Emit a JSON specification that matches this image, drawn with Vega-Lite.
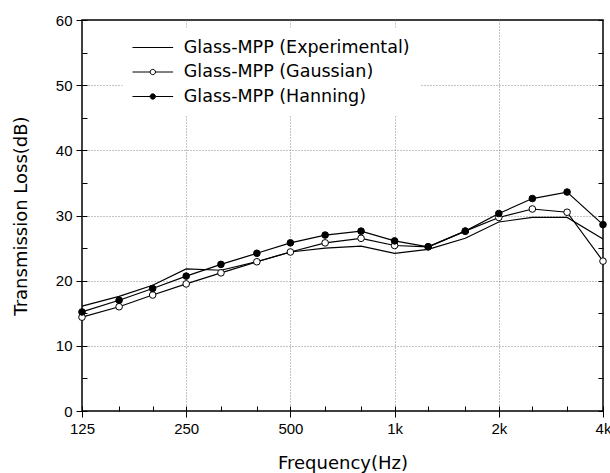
{
  "$schema": "https://vega.github.io/schema/vega-lite/v6.json",
  "width": 521,
  "height": 391,
  "autosize": "none",
  "padding": {"left": 82, "top": 20, "right": 7, "bottom": 62},
  "background": "white",
  "config": {
    "view": {"stroke": "black", "strokeWidth": 1.5},
    "font": "Liberation Sans",
    "axis": {"tickColor": "black", "domain": false, "labelColor": "black", "titleColor": "black"},
    "legend": {"orient": "none", "legendX": 40.5, "legendY": 7.5, "title": null, "fillColor": "white", "padding": 10, "labelFont": "DejaVu Sans", "labelFontSize": 17.5, "labelColor": "black", "symbolSize": 361, "symbolOffset": 10.3, "labelOffset": 21, "rowPadding": 5.5, "symbolStrokeColor": "black", "symbolStrokeWidth": 1, "labelLimit": 400}
  },
  "data": {
    "values": [
      {"series": "Glass-MPP (Experimental)", "freq": 125, "tl": 16.1},
      {"series": "Glass-MPP (Experimental)", "freq": 160, "tl": 17.6},
      {"series": "Glass-MPP (Experimental)", "freq": 200, "tl": 19.3},
      {"series": "Glass-MPP (Experimental)", "freq": 250, "tl": 21.8},
      {"series": "Glass-MPP (Experimental)", "freq": 315, "tl": 21.6},
      {"series": "Glass-MPP (Experimental)", "freq": 400, "tl": 22.9},
      {"series": "Glass-MPP (Experimental)", "freq": 500, "tl": 24.4},
      {"series": "Glass-MPP (Experimental)", "freq": 630, "tl": 25.0},
      {"series": "Glass-MPP (Experimental)", "freq": 800, "tl": 25.3},
      {"series": "Glass-MPP (Experimental)", "freq": 1000, "tl": 24.2},
      {"series": "Glass-MPP (Experimental)", "freq": 1250, "tl": 24.8},
      {"series": "Glass-MPP (Experimental)", "freq": 1600, "tl": 26.5},
      {"series": "Glass-MPP (Experimental)", "freq": 2000, "tl": 29.0},
      {"series": "Glass-MPP (Experimental)", "freq": 2500, "tl": 29.7},
      {"series": "Glass-MPP (Experimental)", "freq": 3150, "tl": 29.7},
      {"series": "Glass-MPP (Experimental)", "freq": 4000, "tl": 26.4},
      {"series": "Glass-MPP (Gaussian)", "freq": 125, "tl": 14.4},
      {"series": "Glass-MPP (Gaussian)", "freq": 160, "tl": 16.0},
      {"series": "Glass-MPP (Gaussian)", "freq": 200, "tl": 17.8},
      {"series": "Glass-MPP (Gaussian)", "freq": 250, "tl": 19.5},
      {"series": "Glass-MPP (Gaussian)", "freq": 315, "tl": 21.2},
      {"series": "Glass-MPP (Gaussian)", "freq": 400, "tl": 22.9},
      {"series": "Glass-MPP (Gaussian)", "freq": 500, "tl": 24.4},
      {"series": "Glass-MPP (Gaussian)", "freq": 630, "tl": 25.8},
      {"series": "Glass-MPP (Gaussian)", "freq": 800, "tl": 26.5},
      {"series": "Glass-MPP (Gaussian)", "freq": 1000, "tl": 25.4},
      {"series": "Glass-MPP (Gaussian)", "freq": 1250, "tl": 25.2},
      {"series": "Glass-MPP (Gaussian)", "freq": 1600, "tl": 27.6},
      {"series": "Glass-MPP (Gaussian)", "freq": 2000, "tl": 29.7},
      {"series": "Glass-MPP (Gaussian)", "freq": 2500, "tl": 31.0},
      {"series": "Glass-MPP (Gaussian)", "freq": 3150, "tl": 30.5},
      {"series": "Glass-MPP (Gaussian)", "freq": 4000, "tl": 23.0},
      {"series": "Glass-MPP (Hanning)", "freq": 125, "tl": 15.2},
      {"series": "Glass-MPP (Hanning)", "freq": 160, "tl": 17.0},
      {"series": "Glass-MPP (Hanning)", "freq": 200, "tl": 18.8},
      {"series": "Glass-MPP (Hanning)", "freq": 250, "tl": 20.7},
      {"series": "Glass-MPP (Hanning)", "freq": 315, "tl": 22.5},
      {"series": "Glass-MPP (Hanning)", "freq": 400, "tl": 24.2},
      {"series": "Glass-MPP (Hanning)", "freq": 500, "tl": 25.8},
      {"series": "Glass-MPP (Hanning)", "freq": 630, "tl": 27.0},
      {"series": "Glass-MPP (Hanning)", "freq": 800, "tl": 27.6},
      {"series": "Glass-MPP (Hanning)", "freq": 1000, "tl": 26.1},
      {"series": "Glass-MPP (Hanning)", "freq": 1250, "tl": 25.2},
      {"series": "Glass-MPP (Hanning)", "freq": 1600, "tl": 27.6},
      {"series": "Glass-MPP (Hanning)", "freq": 2000, "tl": 30.3},
      {"series": "Glass-MPP (Hanning)", "freq": 2500, "tl": 32.6},
      {"series": "Glass-MPP (Hanning)", "freq": 3150, "tl": 33.6},
      {"series": "Glass-MPP (Hanning)", "freq": 4000, "tl": 28.6}
    ]
  },
  "resolve": {"axis": {"x": "independent", "y": "independent"}},
  "layer": [
    {
      "mark": {"type": "line", "color": "black", "strokeWidth": 1.2},
      "encoding": {
        "x": {
          "field": "freq", "type": "quantitative",
          "scale": {"type": "log", "domain": [125, 4000], "nice": false},
          "axis": {"orient": "bottom", "values": [250, 500, 1000, 2000], "grid": true, "gridColor": "#888888", "gridDash": [1, 2], "gridWidth": 1, "ticks": false, "labels": false, "domain": false, "title": null}
        },
        "y": {
          "field": "tl", "type": "quantitative",
          "scale": {"domain": [0, 60], "nice": false},
          "axis": {"orient": "left", "values": [10, 20, 30, 40, 50], "grid": true, "gridColor": "#888888", "gridDash": [1, 2], "gridWidth": 1, "ticks": false, "labels": false, "domain": false, "title": null}
        },
        "detail": {"field": "series", "type": "nominal"}
      }
    },
    {
      "transform": [{"filter": "datum.series !== 'Glass-MPP (Experimental)'"}],
      "mark": {"type": "point", "filled": true, "stroke": "black", "strokeWidth": 1, "size": 44, "opacity": 1},
      "encoding": {
        "x": {
          "field": "freq", "type": "quantitative",
          "axis": {"orient": "bottom", "values": [125, 250, 500, 1000, 2000, 4000], "labelExpr": "datum.value >= 1000 ? (datum.value / 1000) + 'k' : datum.value", "tickSize": 6, "tickWidth": 1, "labelPadding": 4, "labelFontSize": 15, "labelFont": "Liberation Sans", "labelFlush": false, "labelOverlap": false, "grid": false, "domain": false, "title": "Frequency(Hz)", "titleFont": "DejaVu Sans", "titleFontSize": 18, "titleFontWeight": "normal", "titlePadding": 18}
        },
        "y": {
          "field": "tl", "type": "quantitative",
          "axis": {"orient": "left", "values": [0, 10, 20, 30, 40, 50, 60], "tickSize": 6, "tickWidth": 1, "labelPadding": 4, "labelFontSize": 15, "labelFont": "Liberation Sans", "labelFlush": false, "labelOverlap": false, "grid": false, "domain": false, "title": "Transmission Loss(dB)", "titleFont": "DejaVu Sans", "titleFontSize": 18, "titleFontWeight": "normal", "titlePadding": 25}
        },
        "fill": {
          "field": "series", "type": "nominal",
          "scale": {"domain": ["Glass-MPP (Experimental)", "Glass-MPP (Gaussian)", "Glass-MPP (Hanning)"], "range": ["transparent", "white", "black"]}
        }
      }
    },
    {
      "transform": [{"filter": "datum.freq < 0"}],
      "mark": {"type": "point", "filled": true, "stroke": "black", "strokeWidth": 1, "size": 361, "opacity": 1},
      "encoding": {
        "x": {
          "field": "freq", "type": "quantitative",
          "axis": {"orient": "bottom", "values": [125, 160, 200, 250, 315, 400, 500, 630, 800, 1000, 1250, 1600, 2000, 2500, 3150, 4000], "tickSize": -5, "tickWidth": 1, "labels": false, "grid": false, "domain": false, "title": null}
        },
        "y": {
          "field": "tl", "type": "quantitative",
          "axis": {"orient": "left", "values": [0, 5, 10, 15, 20, 25, 30, 35, 40, 45, 50, 55, 60], "tickSize": -5, "tickWidth": 1, "labels": false, "grid": false, "domain": false, "title": null}
        },
        "fill": {"field": "series", "type": "nominal"},
        "shape": {
          "field": "series", "type": "nominal",
          "scale": {"domain": ["Glass-MPP (Experimental)", "Glass-MPP (Gaussian)", "Glass-MPP (Hanning)"], "range": ["M-2.14,0H2.14", "M-2.14,0H-0.28M0.28,0H2.14M-0.28,0A0.28,0.28,0,1,1,0.28,0A0.28,0.28,0,1,1,-0.28,0Z", "M-2.14,0H-0.28M0.28,0H2.14M-0.28,0A0.28,0.28,0,1,1,0.28,0A0.28,0.28,0,1,1,-0.28,0Z"]}
        }
      }
    },
    {
      "transform": [{"filter": "datum.freq < 0"}],
      "mark": {"type": "point", "opacity": 0},
      "encoding": {
        "x": {"field": "freq", "type": "quantitative", "axis": null},
        "y": {
          "field": "tl", "type": "quantitative",
          "axis": {"orient": "right", "values": [0, 5, 10, 15, 20, 25, 30, 35, 40, 45, 50, 55, 60], "tickSize": -5, "tickWidth": 1, "labels": false, "grid": false, "domain": false, "title": null}
        }
      }
    }
  ]
}
